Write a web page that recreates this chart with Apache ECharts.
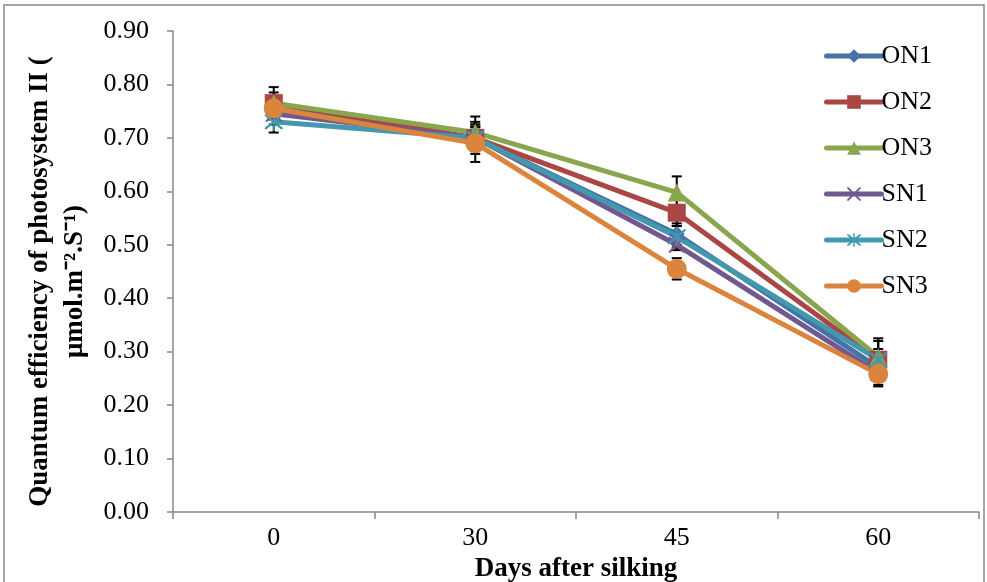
<!DOCTYPE html>
<html>
<head>
<meta charset="UTF-8">
<title>PSII quantum efficiency</title>
<style>
  html, body { margin: 0; padding: 0; background: #fff; }
  #main { width: 987px; height: 582px; }
</style>
<script src="https://cdn.jsdelivr.net/npm/echarts@6/dist/echarts.min.js"></script>
</head>
<body>
<div id="main"></div>
<script>
// data
var days = ['0', '30', '45', '60'];
var yTicks = ['0.00', '0.10', '0.20', '0.30', '0.40', '0.50', '0.60', '0.70', '0.80', '0.90'];
var names = ['ON1', 'ON2', 'ON3', 'SN1', 'SN2', 'SN3'];
var ON1 = [0.755, 0.700, 0.520, 0.270];
var ON2 = [0.765, 0.700, 0.560, 0.285];
var ON3 = [0.765, 0.710, 0.598, 0.290];
var SN1 = [0.745, 0.700, 0.500, 0.260];
var SN2 = [0.730, 0.700, 0.515, 0.285];
var SN3 = [0.755, 0.690, 0.455, 0.258];
var errON1 = [0.020, 0.020, 0.020, 0.020];
var errON2 = [0.030, 0.025, 0.025, 0.035];
var errON3 = [0.020, 0.030, 0.030, 0.035];
var errSN1 = [0.020, 0.020, 0.010, 0.025];
var errSN2 = [0.020, 0.030, 0.020, 0.020];
var errSN3 = [0.020, 0.035, 0.020, 0.020];

var values = [ON1, ON2, ON3, SN1, SN2, SN3];
var errs = [errON1, errON2, errON3, errSN1, errSN2, errSN3];
var colors = ['#4572A7', '#AA4643', '#89A54E', '#71588F', '#4198AF', '#DB843D'];

// marker shapes
var crossPath = 'path://M0,0 L2,0 L10,8 L18,0 L20,0 L20,2 L12,10 L20,18 L20,20 L18,20 L10,12 L2,20 L0,20 L0,18 L8,10 L0,2 Z';
var starPath = 'path://M0,0 L2,0 L10,8 L18,0 L20,0 L20,2 L12,10 L20,18 L20,20 L18,20 L10,12 L2,20 L0,20 L0,18 L8,10 L0,2 Z M9,-2 L11,-2 L11,22 L9,22 Z';
var symbols = ['diamond', 'rect', 'triangle', crossPath, starPath, 'circle'];
var symbolSizes = [16, 18, 18, 16, 18, 20];

var font = '"Liberation Serif", "Times New Roman", serif';

var chart = echarts.init(document.getElementById('main'));

var errData = [];
values.forEach(function (v, s) {
  v.forEach(function (val, i) {
    errData.push([i, val - errs[s][i], val + errs[s][i]]);
  });
});

var series = [{
  type: 'custom',
  name: 'err',
  z: 1,
  silent: true,
  data: errData,
  renderItem: function (params, api) {
    var lo = api.coord([api.value(0), api.value(1)]);
    var hi = api.coord([api.value(0), api.value(2)]);
    var w = 5;
    var st = { stroke: '#000', lineWidth: 2 };
    return {
      type: 'group',
      children: [
        { type: 'line', shape: { x1: lo[0], y1: lo[1], x2: hi[0], y2: hi[1] }, style: st },
        { type: 'line', shape: { x1: lo[0] - w, y1: lo[1], x2: lo[0] + w, y2: lo[1] }, style: st },
        { type: 'line', shape: { x1: hi[0] - w, y1: hi[1], x2: hi[0] + w, y2: hi[1] }, style: st }
      ]
    };
  }
}];

names.forEach(function (n, s) {
  series.push({
    name: n,
    type: 'line',
    z: 2,
    data: values[s],
    symbol: symbols[s],
    symbolSize: symbolSizes[s],
    showAllSymbol: true,
    lineStyle: { color: colors[s], width: 5 },
    itemStyle: { color: colors[s] },
    emphasis: { disabled: true },
    animation: false
  });
});

chart.setOption({
  backgroundColor: '#fff',
  animation: false,
  graphic: [{
    type: 'rect',
    shape: { x: 4, y: 5, width: 980, height: 600 },
    style: { fill: 'none', stroke: '#888', lineWidth: 1.5 }
  }],
  grid: { left: 173, right: 8, top: 31, bottom: 70, outerBoundsMode: 'none', containLabel: false },
  legend: {
    orient: 'vertical',
    left: 819,
    top: 38,
    itemWidth: 55,
    itemHeight: 17,
    itemGap: 20,
    data: names,
    lineStyle: { width: 5, cap: 'round' },
    textStyle: { fontFamily: font, fontSize: 26, color: '#000', padding: [0, 0, 0, -5] }
  },
  xAxis: {
    type: 'category',
    data: days,
    boundaryGap: true,
    axisLine: { lineStyle: { color: '#888', width: 1.5 } },
    axisTick: { show: true, length: 7, lineStyle: { color: '#888', width: 1.5 } },
    axisLabel: { fontFamily: font, fontSize: 26, color: '#000', margin: 13 },
    name: 'Days after silking',
    nameLocation: 'middle',
    nameGap: 40,
    nameTextStyle: { fontFamily: font, fontSize: 27, fontWeight: 'bold', color: '#000' }
  },
  yAxis: {
    type: 'value',
    min: 0,
    max: 0.9,
    interval: 0.1,
    splitLine: { show: false },
    axisLine: { show: true, lineStyle: { color: '#888', width: 1.5 } },
    axisTick: { show: true, length: 6, lineStyle: { color: '#888', width: 1.5 } },
    axisLabel: {
      fontFamily: font, fontSize: 26, color: '#000', margin: 24,
      formatter: function (v) { return yTicks[Math.round(v * 10)]; }
    },
    name: 'Quantum efficiency of photosystem II (\nμmol.m⁻².S⁻¹)',
    nameLocation: 'middle',
    nameGap: 70,
    nameTextStyle: {
      fontFamily: font, fontSize: 27, fontWeight: 'bold', color: '#000', lineHeight: 35,
      padding: [0, 20, 0, 0]
    }
  },
  series: series
});
</script>
</body>
</html>
